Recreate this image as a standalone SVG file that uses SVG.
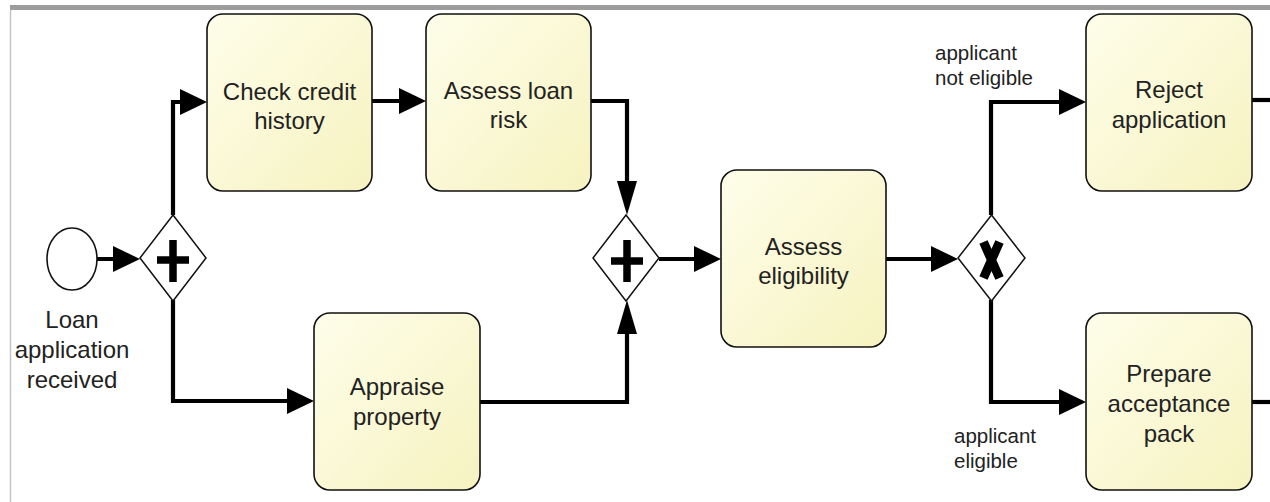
<svg xmlns="http://www.w3.org/2000/svg" width="1270" height="502" viewBox="0 0 1270 502">
<style>
.task{stroke:#111;stroke-width:1.6;fill:url(#tf)}
.gw{fill:#fff;stroke:#111;stroke-width:1.5}
.lbl{font-family:"Liberation Sans",Arial,sans-serif;font-size:24px;fill:#222;text-anchor:middle}
.note{font-family:"Liberation Sans",Arial,sans-serif;font-size:20.5px;fill:#222;text-anchor:start}
.flow{fill:none;stroke:#000;stroke-width:4.2}
</style>
<defs>
<linearGradient id="tf" x1="0" y1="0" x2="1" y2="1">
<stop offset="0" stop-color="#fefeea"/>
<stop offset="1" stop-color="#f6f2c0"/>
</linearGradient>
<marker id="aR" markerUnits="userSpaceOnUse" markerWidth="28" markerHeight="27" refX="19" refY="13" orient="0"><path d="M0,0 L27,13 L0,26 Z" fill="#000"/></marker>
<marker id="aD" markerUnits="userSpaceOnUse" markerWidth="21" markerHeight="35" refX="10" refY="26" orient="0"><path d="M0,0 L20,0 L10,34 Z" fill="#000"/></marker>
<marker id="aU" markerUnits="userSpaceOnUse" markerWidth="21" markerHeight="35" refX="10" refY="8" orient="0"><path d="M10,0 L20,34 L0,34 Z" fill="#000"/></marker>
</defs>
<rect width="1270" height="502" fill="#fff"/>
<g id="frame">
<rect x="10" y="5" width="1260" height="5" fill="#9c9c9c"/>
<line x1="10.5" y1="10" x2="10.5" y2="502" stroke="#c4c4c4" stroke-width="1.5"/>
</g>
<g id="connectors">
<path class="flow" d="M97,259 H132" marker-end="url(#aR)"/>
<path class="flow" d="M173,215 V102 H199" marker-end="url(#aR)"/>
<path class="flow" d="M372,101 H418" marker-end="url(#aR)"/>
<path class="flow" d="M591,101 H627 V207" marker-end="url(#aD)"/>
<path class="flow" d="M173,300 V401 H306" marker-end="url(#aR)"/>
<path class="flow" d="M480,402 H627 V308" marker-end="url(#aU)"/>
<path class="flow" d="M659,259 H713" marker-end="url(#aR)"/>
<path class="flow" d="M886,259 H950" marker-end="url(#aR)"/>
<path class="flow" d="M991,215 V102 H1078" marker-end="url(#aR)"/>
<path class="flow" d="M991,300 V402 H1078" marker-end="url(#aR)"/>
<path class="flow" d="M1252,100 H1270"/>
<path class="flow" d="M1252,402 H1270"/>
</g>
<g id="start">
<ellipse cx="72" cy="259" rx="25" ry="31" fill="#fff" stroke="#111" stroke-width="1.6"/>
<text class="lbl"><tspan x="72" y="328">Loan</tspan><tspan x="72" y="358">application</tspan><tspan x="72" y="388">received</tspan></text>
</g>
<g id="split">
<path class="gw" d="M173,215 L206,258 L173,301 L140,258 Z"/>
<path d="M173,240 V282 M157,260 H189" stroke="#000" stroke-width="7.5"/>
</g>
<g id="checkCredit">
<rect class="task" x="207" y="14" width="165" height="177" rx="16"/>
<text class="lbl"><tspan x="289.5" y="100">Check credit</tspan><tspan x="289.5" y="128.5">history</tspan></text>
</g>
<g id="assessRisk">
<rect class="task" x="426" y="14" width="165" height="177" rx="16"/>
<text class="lbl"><tspan x="508.5" y="99">Assess loan</tspan><tspan x="508.5" y="128">risk</tspan></text>
</g>
<g id="appraise">
<rect class="task" x="314" y="313" width="166" height="177" rx="16"/>
<text class="lbl"><tspan x="397" y="395">Appraise</tspan><tspan x="397" y="425">property</tspan></text>
</g>
<g id="join">
<path class="gw" d="M626,215 L659,258 L626,301 L593,258 Z"/>
<path d="M627,240 V282 M611,261 H643" stroke="#000" stroke-width="7.5"/>
</g>
<g id="assessEligibility">
<rect class="task" x="721" y="170" width="165" height="177" rx="16"/>
<text class="lbl"><tspan x="803.5" y="255">Assess</tspan><tspan x="803.5" y="283.5">eligibility</tspan></text>
</g>
<g id="decision">
<path class="gw" d="M991.5,215 L1025,258 L991.5,301 L958,258 Z"/>
<path d="M983.5,242 L999.5,278 M999.5,242 L983.5,278" stroke="#000" stroke-width="9"/>
</g>
<g id="labels">
<text class="note"><tspan x="935" y="60">applicant</tspan><tspan x="935" y="84.5">not eligible</tspan></text>
<text class="note"><tspan x="954" y="443">applicant</tspan><tspan x="954" y="467.5">eligible</tspan></text>
</g>
<g id="reject">
<rect class="task" x="1086" y="14" width="166" height="177" rx="16"/>
<text class="lbl"><tspan x="1169" y="98">Reject</tspan><tspan x="1169" y="128">application</tspan></text>
</g>
<g id="prepare">
<rect class="task" x="1086" y="313" width="166" height="177" rx="16"/>
<text class="lbl"><tspan x="1169" y="382">Prepare</tspan><tspan x="1169" y="412">acceptance</tspan><tspan x="1169" y="442">pack</tspan></text>
</g>
</svg>
